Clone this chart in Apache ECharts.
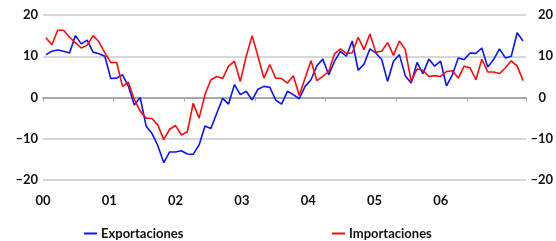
<!DOCTYPE html>
<html>
<head>
<meta charset="utf-8">
<script src="https://cdn.jsdelivr.net/npm/echarts@6/dist/echarts.min.js"></script>
<style>
html,body{margin:0;padding:0;background:#fff;}
#chart{width:556px;height:241px;}
</style>
</head>
<body>
<div id="chart"></div>
<script>
const years = ['00','01','02','03','04','05','06'];
const exportaciones = [10.4,11.2,11.5,11.2,10.8,15.0,13.0,13.9,11.0,10.6,10.0,4.6,4.7,5.5,2.7,-1.8,0.0,-6.9,-8.7,-11.7,-15.8,-13.2,-13.2,-12.9,-13.7,-13.8,-11.5,-6.9,-7.5,-3.8,-0.2,-1.6,3.1,0.7,1.5,-0.6,2.0,2.7,2.5,-0.6,-1.6,1.5,0.7,-0.3,2.7,4.3,7.7,9.3,5.5,8.8,11.2,10.0,13.7,6.6,8.1,11.8,10.8,9.2,3.9,8.8,10.4,5.3,3.5,8.5,5.8,9.3,7.6,8.8,2.8,5.5,9.6,9.2,10.8,10.7,12.0,7.4,9.2,11.8,9.6,10.0,15.7,13.7];
const importaciones = [14.5,12.8,16.3,16.3,14.6,13.3,12.0,12.7,15.0,13.5,10.8,8.5,8.5,2.7,3.7,-0.5,-3.3,-5.0,-5.1,-6.7,-10.2,-7.7,-6.8,-9.1,-8.3,-1.4,-5.0,0.7,4.3,5.1,4.6,7.6,8.8,3.9,10.0,15.0,10.0,4.7,8.0,4.7,4.6,3.5,5.3,0.5,4.7,8.9,4.1,5.1,6.3,10.6,11.8,10.7,10.8,14.6,11.6,15.4,11.0,11.2,13.3,10.2,13.7,11.6,3.9,6.9,6.6,5.1,5.3,5.1,6.3,6.5,4.7,7.6,7.2,4.3,9.3,6.2,6.2,5.8,7.2,8.9,7.6,4.1];
const yTicks = [-20,-10,0,10,20];

const months = [];
for (let i = 0; i < exportaciones.length; i++) {
  const y = years[Math.floor(i/12)] !== undefined ? years[Math.floor(i/12)] : '07';
  months.push(y + '-' + String(i%12+1).padStart(2,'0'));
}

const FONT = 'Lato';
const lab = {fontFamily: FONT, fontWeight: 'bold', fontSize: 13, color: '#111'};
const fmtY = v => (v < 0 ? '\u2013' + Math.abs(v) : String(v));

const chart = echarts.init(document.getElementById('chart'), null, {renderer: 'canvas'});
chart.setOption({
  animation: false,
  backgroundColor: '#fff',
  grid: {left: 43, right: 30, top: 15, bottom: 61, containLabel: false},
  legend: [
    {data: ['Exportaciones'], left: 79, top: 222, itemWidth: 13, itemHeight: 2, icon: 'rect', itemGap: 4,
     textStyle: Object.assign({}, lab, {padding: [0,0,0,-1]})},
    {data: ['Importaciones'], left: 327, top: 222, itemWidth: 13, itemHeight: 2, icon: 'rect', itemGap: 4,
     textStyle: Object.assign({}, lab, {padding: [0,0,0,-1]})}
  ],
  xAxis: [
    {
      type: 'category', data: months, boundaryGap: true,
      axisLine: {onZero: true, lineStyle: {color: '#a8a8a8', width: 2}},
      axisTick: {show: true, length: 4, interval: (i) => i % 12 === 0, lineStyle: {color: '#a8a8a8', width: 1}},
      axisLabel: {show: false},
      splitLine: {show: false}
    },
    {
      type: 'value', min: 0, max: 7.285, interval: 1, position: 'bottom',
      axisLine: {show: false, onZero: false}, axisTick: {show: false}, splitLine: {show: false},
      axisLabel: Object.assign({}, lab, {margin: 14, showMaxLabel: false,
        formatter: v => (Number.isInteger(v) && years[v] !== undefined ? years[v] : '')})
    }
  ],
  yAxis: [
    {
      type: 'value', min: yTicks[0], max: yTicks[yTicks.length-1], interval: 10,
      axisLine: {show: false}, axisTick: {show: false},
      splitLine: {show: true, lineStyle: {color: '#c8c8c8', width: 1.5}},
      axisLabel: Object.assign({}, lab, {margin: 5, formatter: fmtY})
    },
    {
      type: 'value', min: yTicks[0], max: yTicks[yTicks.length-1], interval: 10, position: 'right',
      axisLine: {show: false}, axisTick: {show: false}, splitLine: {show: false},
      axisLabel: Object.assign({}, lab, {margin: 27, align: 'right',
        formatter: v => (v === 0 ? '{z|0}' : fmtY(v)),
        rich: {z: Object.assign({}, lab, {padding: [0, 7, 0, 0]})}})
    }
  ],
  series: [
    {name: 'Exportaciones', type: 'line', data: exportaciones, xAxisIndex: 0, yAxisIndex: 0,
     showSymbol: false, symbol: 'none', lineStyle: {color: '#0a14ff', width: 1.6}, itemStyle: {color: '#0a14ff'}, z: 3},
    {name: 'Importaciones', type: 'line', data: importaciones, xAxisIndex: 0, yAxisIndex: 0,
     showSymbol: false, symbol: 'none', lineStyle: {color: '#ff0a0a', width: 1.6}, itemStyle: {color: '#ff0a0a'}, z: 4}
  ]
});
</script>
</body>
</html>
